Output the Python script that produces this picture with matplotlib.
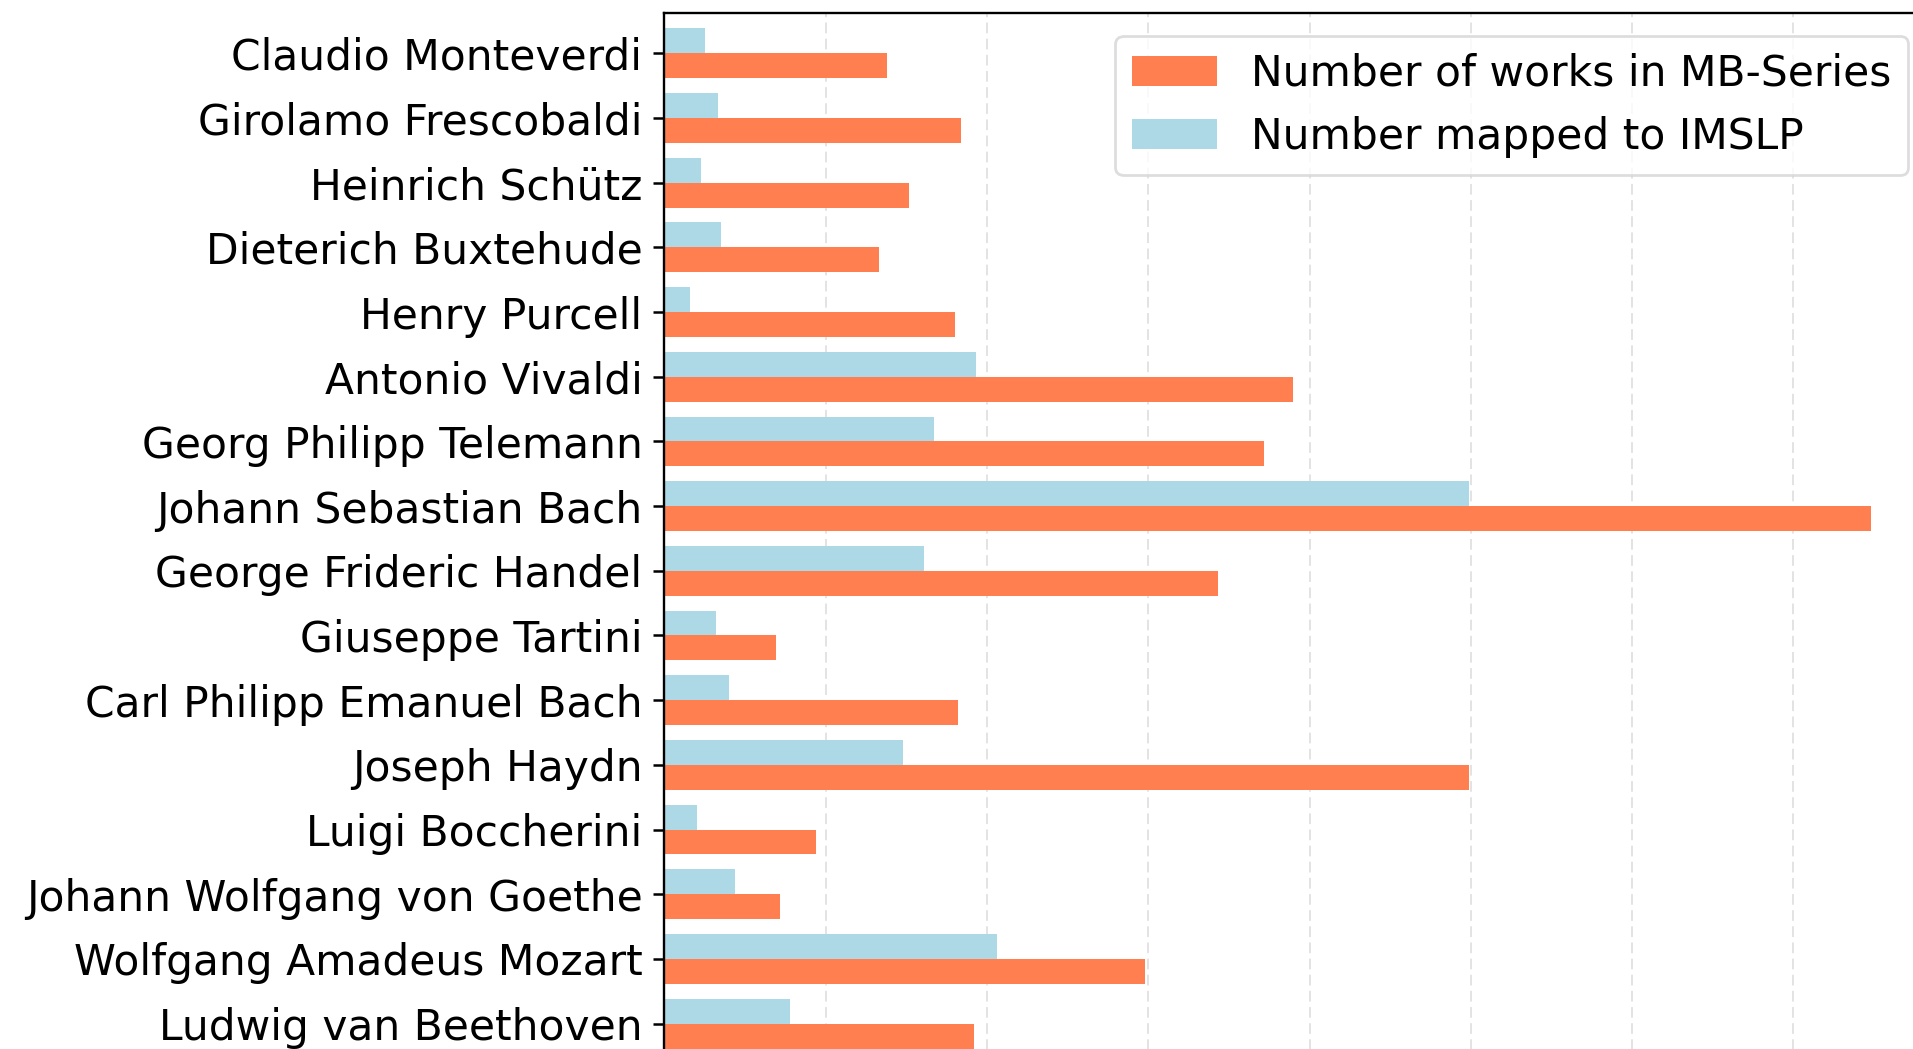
import numpy as np
import matplotlib
matplotlib.use("Agg")
import matplotlib.pyplot as plt

composers = ["Claudio Monteverdi", "Girolamo Frescobaldi", "Heinrich Schütz",
             "Dieterich Buxtehude", "Henry Purcell", "Antonio Vivaldi",
             "Georg Philipp Telemann", "Johann Sebastian Bach",
             "George Frideric Handel", "Giuseppe Tartini",
             "Carl Philipp Emanuel Bach", "Joseph Haydn", "Luigi Boccherini",
             "Johann Wolfgang von Goethe", "Wolfgang Amadeus Mozart",
             "Ludwig van Beethoven"]
# works in MB-series
mb_works = [138, 184, 152, 133, 180, 390, 372, 748, 343, 69, 182, 499, 94, 72, 298, 192]
# works mapped to IMSLP
imslp_mapped = [25, 33, 23, 35, 16, 193, 167, 499, 161, 32, 40, 148, 20, 44, 206, 78]

W, H = 1913, 1049
fig = plt.figure(figsize=(W / 100, H / 100), dpi=100)

# axes run off the bottom/right edge of the canvas (cropped view)
row_px = 64.69
ylim_top, ylim_bot = -0.618, 15.8
x_left, grid_px = 664.3, 161.3
xmax = 800
top_px = 13.3
ax_h = (ylim_bot - ylim_top) * row_px
ax_w = xmax / 100 * grid_px
ax = fig.add_axes([x_left / W, 1 - (top_px + ax_h) / H, ax_w / W, ax_h / H])

ind = np.arange(len(composers))
h = 0.385
ax.barh(ind + h / 2, mb_works, height=h, color="coral", label="Number of works in MB-Series", zorder=2)
ax.barh(ind - h / 2, imslp_mapped, height=h, color="lightblue", label="Number mapped to IMSLP", zorder=2)

ax.set_xlim(0, xmax)
ax.set_ylim(ylim_bot, ylim_top)
ax.set_yticks(ind)
ax.set_yticklabels(composers, fontsize=30.5)
ax.set_xticks(np.arange(0, xmax + 1, 100))
ax.tick_params(axis="both", length=7.7, width=1.8, pad=8, labelsize=30.5)
# x tick labels sit below the visible area
ax.tick_params(axis="x", labelbottom=False)
ax.xaxis.grid(True, linestyle=(0, (5.5, 2.8)), linewidth=1.4, color="#e3e3e3", zorder=0)
ax.set_axisbelow(True)
for sp in ax.spines.values():
    sp.set_linewidth(1.7)

leg = ax.legend(loc="upper right", fontsize=30.5, bbox_to_anchor=(1908 / W, 1 - 36 / H),
                bbox_transform=fig.transFigure, borderaxespad=0, framealpha=0.8)
leg.get_frame().set_linewidth(2.0)
leg.get_frame().set_edgecolor("#d5d5d5")

fig.savefig("out.png", dpi=100)
